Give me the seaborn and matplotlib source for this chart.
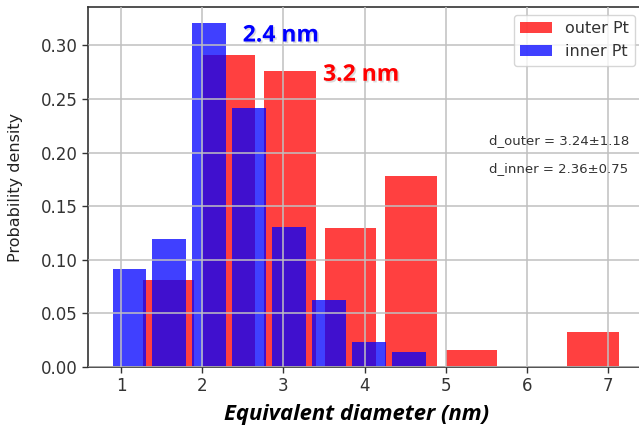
import numpy as np
import pandas as pd
import matplotlib
matplotlib.use("Agg")
import matplotlib.pyplot as plt
import matplotlib.patheffects as pe
import seaborn as sns

# ---- data ----
outer_edges_min, outer_edges_max, outer_nbins = 1.213, 7.183, 8
outer_density = [0.081, 0.291, 0.276, 0.130, 0.178, 0.0155, 0.0, 0.0325]
inner_edges_min, inner_edges_max, inner_nbins = 0.859, 4.791, 8
inner_density = [0.0917, 0.119, 0.321, 0.242, 0.1306, 0.0622, 0.0233, 0.0143]
series_labels = ["outer Pt", "inner Pt"]
x_ticks = [1, 2, 3, 4, 5, 6, 7]
y_ticks = [0.00, 0.05, 0.10, 0.15, 0.20, 0.25, 0.30]
outer_label = "3.2 nm"
inner_label = "2.4 nm"
stat_outer = "d_outer = 3.24±1.18"
stat_inner = "d_inner = 2.36±0.75"

outer_edges = np.linspace(outer_edges_min, outer_edges_max, outer_nbins + 1)
inner_edges = np.linspace(inner_edges_min, inner_edges_max, inner_nbins + 1)
outer_centers = (outer_edges[:-1] + outer_edges[1:]) / 2
inner_centers = (inner_edges[:-1] + inner_edges[1:]) / 2

df_outer = pd.DataFrame({"d": outer_centers, "w": outer_density})
df_inner = pd.DataFrame({"d": inner_centers, "w": inner_density})

sns.set_theme(style="ticks")
plt.rcParams["font.family"] = ["DejaVu Sans"]

fig = plt.figure(figsize=(6.39, 4.29), dpi=100)
ax = fig.add_axes([88 / 639, 62 / 429, (642 - 88) / 639, 360 / 429])

sns.histplot(data=df_outer, x="d", weights="w", bins=outer_nbins,
             binrange=(outer_edges_min, outer_edges_max), shrink=0.85,
             color="red", alpha=0.75, linewidth=0, ax=ax, label=series_labels[0])
sns.histplot(data=df_inner, x="d", weights="w", bins=inner_nbins,
             binrange=(inner_edges_min, inner_edges_max), shrink=0.85,
             color="blue", alpha=0.75, linewidth=0, ax=ax, label=series_labels[1])

ax.set_xlim(0.5936, 7.416)
ax.set_ylim(0, 0.3358)
ax.set_xticks(x_ticks)
ax.set_yticks(y_ticks)
ax.set_yticklabels([f"{v:.2f}" for v in y_ticks])
ax.tick_params(labelsize=12, colors="#333333", length=4, width=1)
ax.grid(True, color="#c0c0c0", linewidth=1.1)
ax.set_axisbelow(False)
for s in ["left", "bottom", "top"]:
    ax.spines[s].set_color("#333333")
    ax.spines[s].set_linewidth(1.2)
ax.spines["right"].set_visible(False)

ax.set_ylabel("Probability density", fontsize=11.5, color="#222222")
ax.yaxis.set_label_coords(-0.118, 0.5)
ax.set_xlabel("Equivalent diameter (nm)", fontsize=15.8, fontweight="bold",
              fontstyle="italic", family="Open Sans", color="black")
ax.xaxis.set_label_coords((357 - 88) / 554, -0.102)

leg = ax.legend(loc="upper right", bbox_to_anchor=(635 / 639, 1 - 15 / 429),
                bbox_transform=fig.transFigure, borderaxespad=0, fontsize=11.5,
                frameon=True, fancybox=True, framealpha=0.8, edgecolor="#cccccc")
for t in leg.get_texts():
    t.set_color("#333333")

shadow = [pe.SimplePatchShadow(offset=(1.2, -1.2), shadow_rgbFace="#888888", alpha=0.3), pe.Normal()]
ax.text(2.499, 0.3036, inner_label, color="blue", fontsize=16.5, fontweight="bold",
        family="Open Sans", ha="left", va="baseline", path_effects=shadow)
ax.text(3.488, 0.2670, outer_label, color="red", fontsize=16.5, fontweight="bold",
        family="Open Sans", ha="left", va="baseline", path_effects=shadow)

ax.text(5.532, 0.208, stat_outer, fontsize=9.5, color="#333333", ha="left", va="baseline")
ax.text(5.532, 0.1822, stat_inner, fontsize=9.5, color="#333333", ha="left", va="baseline")

fig.savefig("out.png", dpi=100)
